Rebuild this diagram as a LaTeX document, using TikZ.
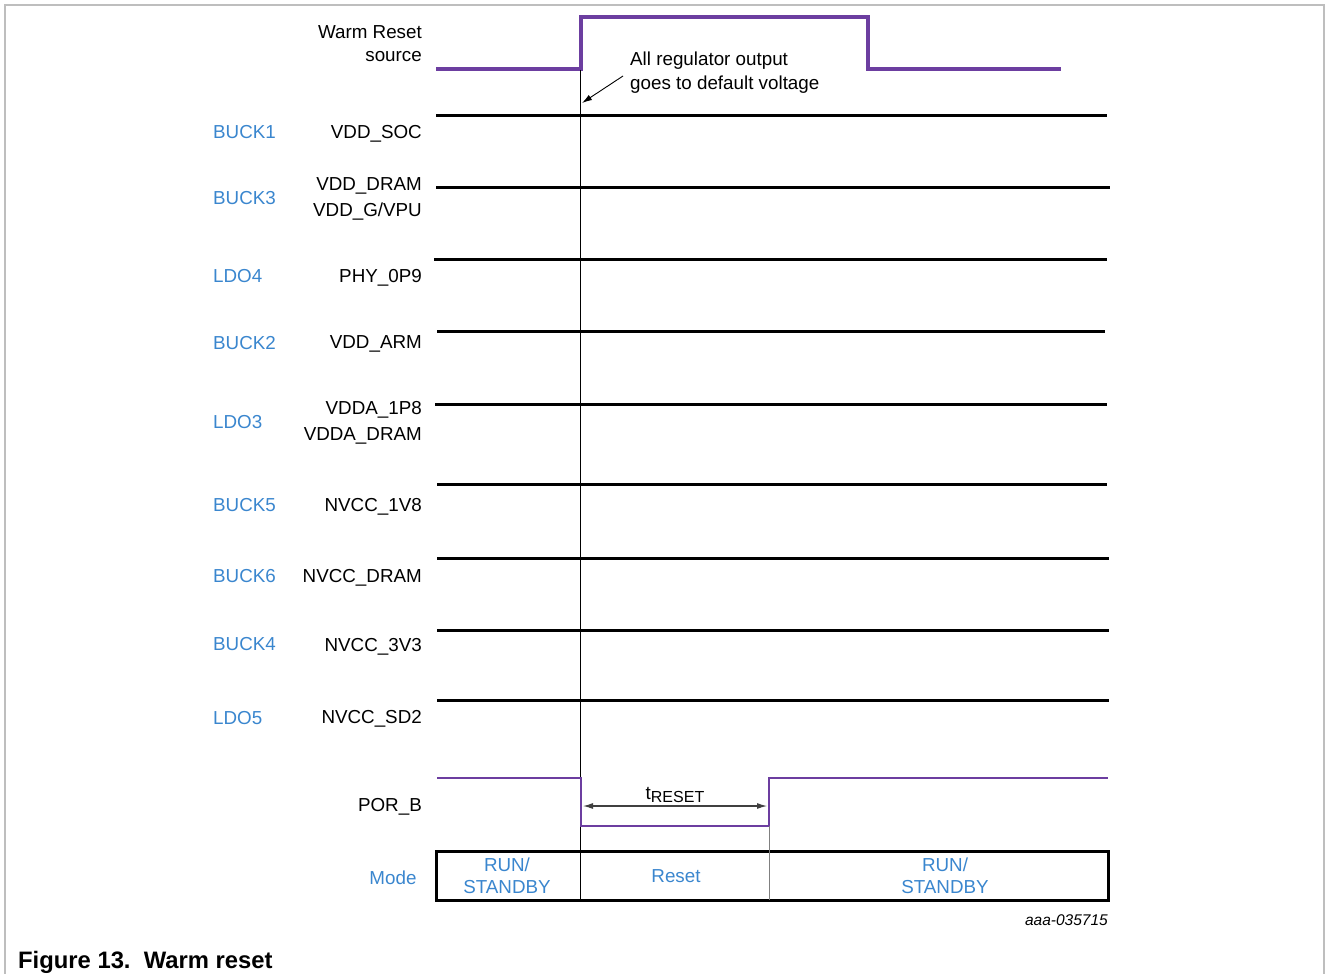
\documentclass[tikz,border=0pt]{standalone}
\usepackage{fontspec}
\setmainfont{Liberation Sans}
\usetikzlibrary{arrows.meta}
\definecolor{sigpurple}{RGB}{108,62,160}
\definecolor{regblue}{RGB}{58,134,206}
\definecolor{framegray}{RGB}{190,190,190}
\begin{document}
\begin{tikzpicture}[x=1pt,y=-1pt,
  lbl/.style={inner sep=0pt, font=\fontsize{18.8}{22}\selectfont},
  sig/.style={lbl, anchor=base east},
  note/.style={lbl, anchor=base west},
  reg/.style={lbl, anchor=base west, text=regblue},
  modetxt/.style={lbl, text=regblue, align=center},
  rail/.style={line width=3pt, black},
  wave/.style={line width=3.2pt, sigpurple, line join=miter},
  thinline/.style={line width=0.9pt, black},
  tip/.style={-{Latex[length=10pt,width=6pt]}}]
\useasboundingbox (0,0) rectangle (1326,974);
\draw[framegray, line width=1.2pt] (5,974) -- (5,5) -- (1324,5) -- (1324,974);

% Warm reset source waveform
\node[sig] (wr1) at (422,39) {Warm Reset};
\node[sig] (wr2) at (422,62) {source};
\coordinate (w0) at (436,69);
\coordinate (w1) at (581,69);
\coordinate (w2) at (581,17);
\coordinate (w3) at (868,17);
\coordinate (w4) at (868,69);
\coordinate (w5) at (1061,69);
\draw[wave] (w0) -- (w1) -- (w2) -- (w3) -- (w4) -- (w5);

% annotation
\node[note] (n1) at (630,66) {All regulator output};
\node[note] (n2) at (630,90) {goes to default voltage};
\coordinate (a0) at (623,76);
\coordinate (a1) at (582,103);
\draw[thinline, tip] (a0) -- (a1);

% vertical reference line
\coordinate (v0) at (580,70);
\coordinate (v1) at (580,900);
\draw[thinline] (v0) -- (v1);

% rails
\foreach \y/\xa/\xb/\nm in {115/436/1107/r1, 187/436/1110/r2, 259/434/1107/r3, 331/437/1105/r4, 404/435/1107/r5, 484/437/1107/r6, 558/437/1109/r7, 630/437/1109/r8, 700/437/1109/r9}{
  \coordinate (\nm a) at (\xa,\y);
  \coordinate (\nm b) at (\xb,\y);
  \draw[rail] (\nm a) -- (\nm b);
}

% regulator labels
\node[reg] (b1) at (213,139) {BUCK1};
\node[reg] (b3) at (213,204) {BUCK3};
\node[reg] (l4) at (213,282) {LDO4};
\node[reg] (b2) at (213,349) {BUCK2};
\node[reg] (l3) at (213,428) {LDO3};
\node[reg] (b5) at (213,511) {BUCK5};
\node[reg] (b6) at (213,582) {BUCK6};
\node[reg] (b4) at (213,650) {BUCK4};
\node[reg] (l5) at (213,724) {LDO5};

% signal labels
\node[sig] (s1) at (422,139) {VDD\_SOC};
\node[sig] (s2) at (422,190) {VDD\_DRAM};
\node[sig] (s3) at (422,216) {VDD\_G/VPU};
\node[sig] (s4) at (422,282) {PHY\_0P9};
\node[sig] (s5) at (422,348) {VDD\_ARM};
\node[sig] (s6) at (422,414) {VDDA\_1P8};
\node[sig] (s7) at (422,440) {VDDA\_DRAM};
\node[sig] (s8) at (422,511) {NVCC\_1V8};
\node[sig] (s9) at (422,582) {NVCC\_DRAM};
\node[sig] (s10) at (422,651) {NVCC\_3V3};
\node[sig] (s11) at (422,723) {NVCC\_SD2};
\node[sig] (s12) at (422,811) {POR\_B};

% POR_B waveform
\coordinate (p0) at (437,778);
\coordinate (p1) at (581,778);
\coordinate (p2) at (581,826);
\coordinate (p3) at (769,826);
\coordinate (p4) at (769,778);
\coordinate (p5) at (1108,778);
\draw[wave, line width=2.6pt] (p0) -- (p1) -- (p2) -- (p3) -- (p4) -- (p5);

% tRESET
\coordinate (t0) at (583,806);
\coordinate (t1) at (767,806);
\draw[black!75, line width=1.1pt, {Latex[length=10pt,width=6pt]}-{Latex[length=10pt,width=6pt]}] (t0) -- (t1);
\node[lbl, anchor=base] (tr) at (675,799) {t\raisebox{-3pt}{\fontsize{16}{18}\selectfont RESET}};

% Mode box
\node[lbl, text=regblue, anchor=base] (mode) at (393,884) {Mode};
\coordinate (m0) at (436,851);
\coordinate (m1) at (1108,900);
\draw[line width=3pt] (m0) rectangle (m1);
\coordinate (g0) at (769,826);
\coordinate (g1) at (769,900);
\draw[black!50, line width=1pt] (g0) -- (g1);
\node[modetxt] (mr1) at (507,876) {RUN/\\STANDBY};
\node[lbl, text=regblue, anchor=base] (mr2) at (676,882) {Reset};
\node[modetxt] (mr3) at (945,876) {RUN/\\STANDBY};

\node[inner sep=0pt, anchor=base east, font=\fontsize{15.5}{18}\selectfont\itshape] (id) at (1108,925) {aaa-035715};

\node[inner sep=0pt, anchor=base west, font=\fontsize{23.8}{28}\selectfont\bfseries] (cap) at (18,968) {Figure 13.\ \ Warm reset};
\end{tikzpicture}
\end{document}
